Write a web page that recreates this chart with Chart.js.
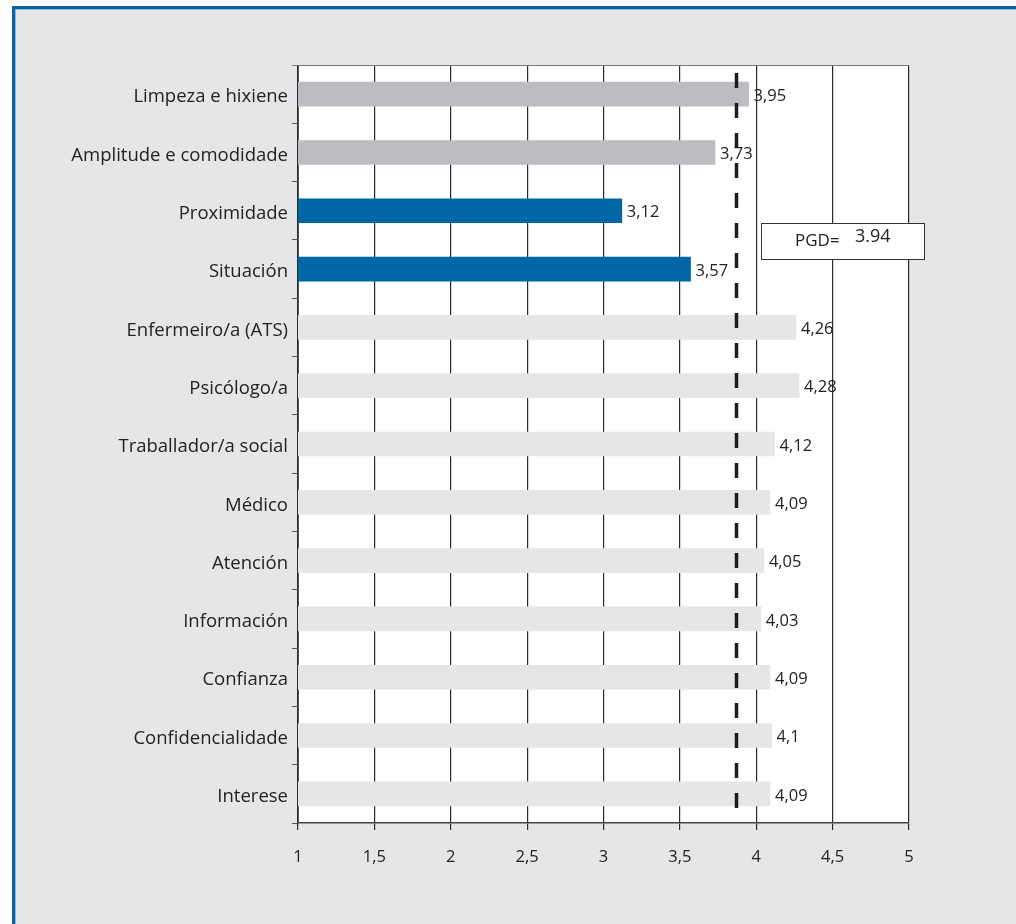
<!DOCTYPE html>
<html>
<head>
<meta charset="utf-8">
<script src="https://cdn.jsdelivr.net/npm/chart.js@4.4.0/dist/chart.umd.min.js"></script>
<style>
  body { margin: 0; background: #fff; }
  #frame {
    position: absolute; left: 12px; top: 6px; width: 1010px; height: 940px;
    background: #e5e6e8; border: 3px solid #0b63a1;
    box-shadow: inset 0 0 0 1px #8db6d6;
  }
  #wrap { position: absolute; left: 0; top: 0; width: 1016px; height: 924px; }
</style>
</head>
<body>
<div id="frame"></div>
<div id="wrap"><canvas id="grafico" width="1016" height="924"></canvas></div>
<script>
const categorias = [
  'Limpeza e hixiene',
  'Amplitude e comodidade',
  'Proximidade',
  'Situación',
  'Enfermeiro/a (ATS)',
  'Psicólogo/a',
  'Traballador/a social',
  'Médico',
  'Atención',
  'Información',
  'Confianza',
  'Confidencialidade',
  'Interese'
]
const valores = [3.95, 3.73, 3.12, 3.57, 4.26, 4.28, 4.12, 4.09, 4.05, 4.03, 4.09, 4.1, 4.09]
const pgdTexto = '3.94'
const pgdLinea = 3.87
const ejeX = [1, 1.5, 2, 2.5, 3, 3.5, 4, 4.5, 5]

const cores = ['#bcbdc0', '#bcbdc0', '#0066a6', '#0066a6',
  '#e5e6e8', '#e5e6e8', '#e5e6e8', '#e5e6e8', '#e5e6e8',
  '#e5e6e8', '#e5e6e8', '#e5e6e8', '#e5e6e8']

const fonte = "'Open Sans', sans-serif"
const coma = (v) => String(v).replace('.', ',')

// fondo blanco del area, etiquetas, linea PGD y caja
const extras = {
  id: 'extras',
  beforeDraw(chart) {
    const a = chart.chartArea, c = chart.ctx
    c.save()
    c.fillStyle = '#ffffff'
    c.fillRect(a.left, a.top, a.right - a.left, a.bottom - a.top)
    c.restore()
  },
  afterDraw(chart) {
    const a = chart.chartArea, c = chart.ctx
    const x = chart.scales.x
    c.save()
    // linea superior
    c.strokeStyle = '#7a7a7a'
    c.lineWidth = 1
    c.beginPath()
    c.moveTo(a.left - 6, a.top + 0.5)
    c.lineTo(a.right, a.top + 0.5)
    c.stroke()
    // etiquetas de valor
    c.fillStyle = '#222'
    c.font = '16.5px ' + fonte
    c.textBaseline = 'middle'
    chart.getDatasetMeta(0).data.forEach((b, i) => {
      c.fillText(coma(valores[i]), b.x + 5, b.y + 2)
    })
    // linea discontinua PGD
    const px = Math.round(x.getPixelForValue(pgdLinea)) + 0.5
    c.strokeStyle = '#1c1c1c'
    c.lineWidth = 3.5
    c.setLineDash([15, 15])
    c.beginPath()
    c.moveTo(px, a.top + 8)
    c.lineTo(px, a.bottom - 12)
    c.stroke()
    c.setLineDash([])
    // caja PGD
    c.fillStyle = '#ffffff'
    c.fillRect(761, 223, 163, 36)
    c.strokeStyle = '#333'
    c.lineWidth = 1
    c.strokeRect(761.5, 223.5, 163, 36)
    c.fillStyle = '#222'
    c.font = '17px ' + fonte
    c.fillText('PGD=', 795, 241)
    c.font = '18px ' + fonte
    c.fillText(pgdTexto, 855, 237)
    c.restore()
  }
}

new Chart(document.getElementById('grafico'), {
  type: 'bar',
  data: {
    labels: categorias,
    datasets: [{
      data: valores,
      backgroundColor: cores,
      borderWidth: 0,
      barThickness: 24
    }]
  },
  options: {
    indexAxis: 'y',
    responsive: false,
    animation: false,
    layout: { padding: { left: 0, right: 107, top: 65, bottom: 0 } },
    plugins: {
      legend: { display: false },
      tooltip: { enabled: false }
    },
    scales: {
      x: {
        type: 'linear',
        min: 1,
        max: 5,
        afterBuildTicks: (s) => { s.ticks = ejeX.map(v => ({ value: v })) },
        afterFit: (s) => { s.height = 101 },
        grid: { color: '#2a2a2a', lineWidth: 1.2, tickLength: 7, drawTicks: true },
        border: { color: '#444', width: 1.5 },
        ticks: {
          color: '#222',
          padding: 17,
          font: { family: fonte, size: 16.5 },
          callback: (v) => coma(v)
        }
      },
      y: {
        type: 'category',
        offset: true,
        afterFit: (s) => { s.width = 298 },
        grid: { drawOnChartArea: false, offset: true, tickLength: 6, color: '#555' },
        border: { color: '#555', width: 1 },
        ticks: {
          color: '#222',
          padding: 4,
          labelOffset: 3,
          font: { family: fonte, size: 18.5 }
        }
      }
    }
  },
  plugins: [extras]
})
</script>
</body>
</html>
